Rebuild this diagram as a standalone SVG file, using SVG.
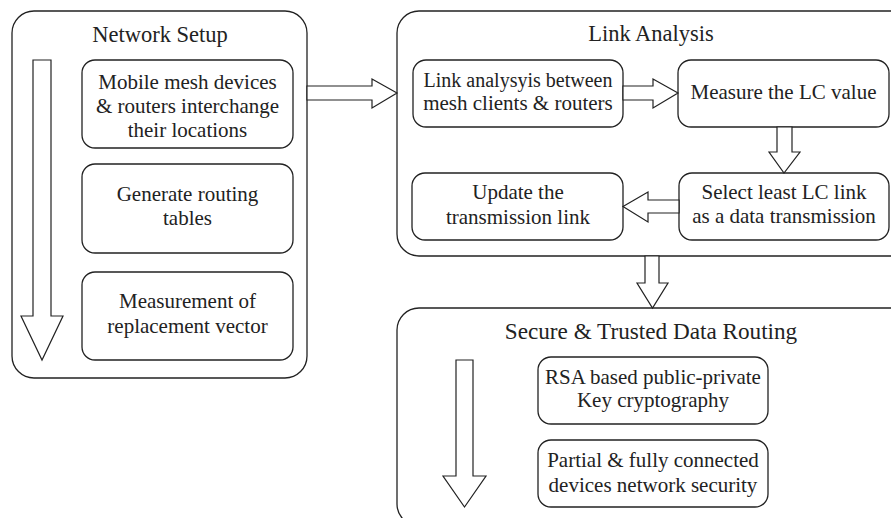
<svg xmlns="http://www.w3.org/2000/svg" width="891" height="518" viewBox="0 0 891 518">
<style>
.outer{fill:#fff;stroke:#222;stroke-width:1.3}
.box{fill:#fff;stroke:#222;stroke-width:1.3}
.arr{fill:#fff;stroke:#222;stroke-width:1.2;stroke-linejoin:miter}
text{font-family:"Liberation Serif","Times New Roman",serif;fill:#222;text-anchor:middle}
.t{font-size:21px}
.h{font-size:22.5px}
</style>
<rect width="891" height="518" fill="#fff"/>
<g id="network-setup">
<rect class="outer" x="12" y="11" width="295" height="367" rx="22"/>
<text class="h" x="160" y="42">Network Setup</text>
</g>
<g id="mobile-mesh">
<rect class="box" x="82" y="60" width="211" height="88" rx="13"/>
<text class="t" x="187.5" y="89">Mobile mesh devices</text>
<text class="t" x="187.5" y="112.5">&amp; routers interchange</text>
<text class="t" x="187.5" y="136.5">their locations</text>
</g>
<g id="routing-tables">
<rect class="box" x="82" y="164" width="211" height="89" rx="13"/>
<text class="t" x="187.5" y="201">Generate routing</text>
<text class="t" x="187.5" y="225">tables</text>
</g>
<g id="replacement-vector">
<rect class="box" x="82" y="272" width="211" height="88" rx="13"/>
<text class="t" x="187.5" y="308">Measurement of</text>
<text class="t" x="187.5" y="333">replacement vector</text>
</g>
<g id="link-analysis">
<rect class="outer" x="397" y="11" width="520" height="245" rx="22"/>
<text class="h" x="651" y="41">Link Analysis</text>
</g>
<g id="link-analysis-clients">
<rect class="box" x="413" y="60" width="210" height="67" rx="13"/>
<text class="t" x="518" y="87" style="font-size:20px">Link analysyis between</text>
<text class="t" x="518" y="110">mesh clients &amp; routers</text>
</g>
<g id="measure-lc">
<rect class="box" x="678" y="60" width="211" height="67" rx="13"/>
<text class="t" x="783.5" y="99">Measure the LC value</text>
</g>
<g id="select-link">
<rect class="box" x="679" y="173" width="210" height="67" rx="13"/>
<text class="t" x="784" y="199">Select least LC link</text>
<text class="t" x="784" y="223">as a data transmission</text>
</g>
<g id="update-link">
<rect class="box" x="412" y="173" width="211" height="67" rx="13"/>
<text class="t" x="518" y="199">Update the</text>
<text class="t" x="518" y="224">transmission link</text>
</g>
<g id="secure-routing">
<rect class="outer" x="397" y="308" width="520" height="218" rx="22"/>
<text class="h" x="651" y="339" style="font-size:23.2px">Secure &amp; Trusted Data Routing</text>
</g>
<g id="rsa">
<rect class="box" x="538" y="357" width="230" height="67" rx="13"/>
<text class="t" x="653" y="384">RSA based public-private</text>
<text class="t" x="653" y="407">Key cryptography</text>
</g>
<g id="partial-security">
<rect class="box" x="538" y="440" width="230" height="67" rx="13"/>
<text class="t" x="653" y="467">Partial &amp; fully connected</text>
<text class="t" x="653" y="492">devices network security</text>
</g>
<g id="connectors">
<polygon class="arr" points="307,86 372,86 372,79 397,93 372,108 372,100 307,100"/>
<polygon class="arr" points="623,86 653,86 653,79 678,93 653,108 653,100 623,100"/>
<polygon class="arr" points="777,127 777,152 769,152 784,173 800,152 792,152 792,127"/>
<polygon class="arr" points="679,200 648,200 648,192 623,206.5 648,222 648,213 679,213"/>
<polygon class="arr" points="645,256 645,283 637,283 652.5,308 668,283 659,283 659,256"/>
<polygon class="arr" points="33,60 51,60 51,316 63,316 42,360 21,316 33,316"/>
<polygon class="arr" points="456,360 473,360 473,476 486,476 464.5,507 443,476 456,476"/>
</g>
</svg>
